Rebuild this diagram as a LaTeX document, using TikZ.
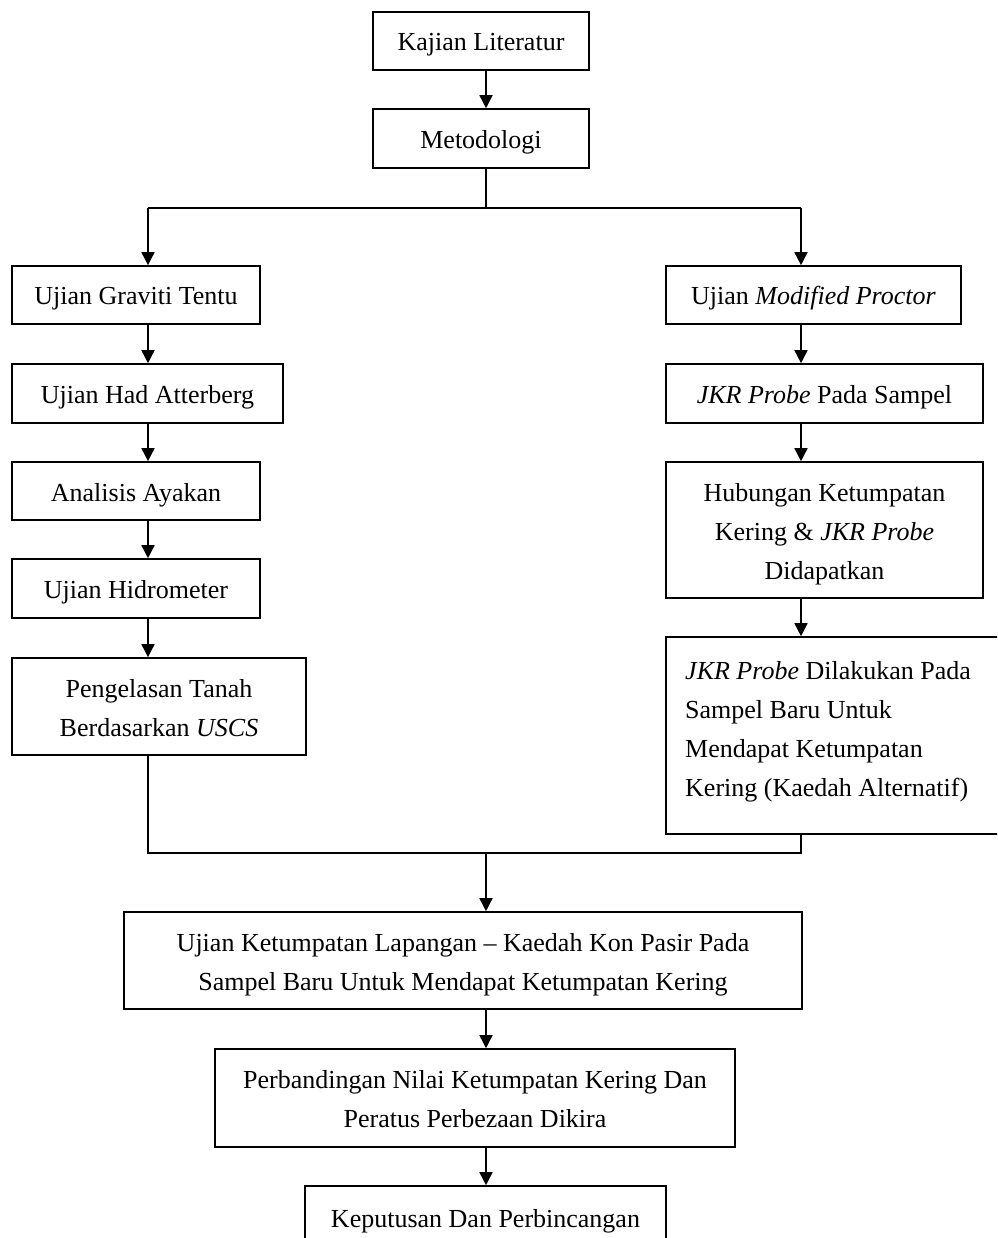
\documentclass[tikz,border=0pt]{standalone}
\usepackage{fontspec}
\setmainfont{Liberation Serif}
\usetikzlibrary{arrows.meta}
\tikzset{
  box/.style={draw, line width=1.6pt, inner sep=0pt, align=center,
    font=\fontsize{26}{39}\selectfont, text height=26pt, text depth=6pt},
  twolines/.style={text height=65pt},
  threelines/.style={text height=104pt},
  txt/.style={inner sep=0pt, font=\fontsize{26}{39}\selectfont},
  conn/.style={line width=1.6pt},
  arr/.style={line width=1.6pt, -{Triangle[length=13pt,width=13pt]}}
}
\begin{document}
\begin{tikzpicture}[x=1pt,y=-1pt]
\clip (0,0) rectangle (997,1238);
\fill[white] (0,0) rectangle (997,1238);
% top
\node[box, minimum width=216pt, minimum height=58pt] (kaj) at (481,41) {Kajian Literatur};
\node[box, minimum width=216pt, minimum height=59pt] (met) at (481,138.5) {Metodologi};
% left column
\node[box, minimum width=248pt, minimum height=58pt] (gra) at (136,295) {Ujian Graviti Tentu};
\node[box, minimum width=271pt, minimum height=59pt] (att) at (147.5,393.5) {Ujian Had Atterberg};
\node[box, minimum width=248pt, minimum height=58pt] (aya) at (136,491) {Analisis Ayakan};
\node[box, minimum width=248pt, minimum height=59pt] (hid) at (136,588.5) {Ujian Hidrometer};
\node[box, twolines, minimum width=294pt, minimum height=97pt] (pen) at (159,706.5) {Pengelasan Tanah\\Berdasarkan \textit{USCS}};
% right column
\node[box, minimum width=295pt, minimum height=58pt] (mp) at (813.5,295) {Ujian \textit{Modified Proctor}};
\node[box, minimum width=317pt, minimum height=59pt] (jkr) at (824.5,393.5) {\textit{JKR Probe} Pada Sampel};
\node[box, threelines, minimum width=317pt, minimum height=136pt] (hub) at (824.5,530) {Hubungan Ketumpatan\\Kering \& \textit{JKR Probe}\\Didapatkan};
\node[box, minimum width=344pt, minimum height=197pt] (dil) at (838,735.5) {};
\node[txt, anchor=base west, text width=310pt, align=flush left] (dtext) at (685,679)
  {\textit{JKR Probe} Dilakukan Pada\\Sampel Baru Untuk\\Mendapat Ketumpatan\\Kering (Kaedah Alternatif)};
% bottom
\node[box, twolines, minimum width=678pt, minimum height=97pt] (ket) at (463,960.5) {Ujian Ketumpatan Lapangan – Kaedah Kon Pasir Pada\\Sampel Baru Untuk Mendapat Ketumpatan Kering};
\node[box, twolines, minimum width=520pt, minimum height=98pt] (per) at (475,1098) {Perbandingan Nilai Ketumpatan Kering Dan\\Peratus Perbezaan Dikira};
\node[box, minimum width=361pt, minimum height=62pt] (kep) at (485.5,1217) {Keputusan Dan Perbincangan};
% coordinates
\coordinate (split) at (486,208);
\coordinate (lx) at (148,208);
\coordinate (rx) at (801,208);
\coordinate (ml) at (148,853);
\coordinate (mr) at (801,853);
\coordinate (mc) at (486,853);
% connectors
\draw[arr] (kaj.south -| split) -- (met.north -| split);
\draw[conn] (met.south -| split) -- (split);
\draw[conn] (lx) -- (rx);
\draw[arr] (lx) -- (gra.north -| lx);
\draw[arr] (rx) -- (mp.north -| rx);
\draw[arr] (gra.south -| lx) -- (att.north -| lx);
\draw[arr] (att.south -| lx) -- (aya.north -| lx);
\draw[arr] (aya.south -| lx) -- (hid.north -| lx);
\draw[arr] (hid.south -| lx) -- (pen.north -| lx);
\draw[arr] (mp.south -| rx) -- (jkr.north -| rx);
\draw[arr] (jkr.south -| rx) -- (hub.north -| rx);
\draw[arr] (hub.south -| rx) -- (dil.north -| rx);
\draw[conn] (pen.south -| ml) -- (ml) -- (mr) -- (dil.south -| mr);
\draw[arr] (mc) -- (ket.north -| mc);
\draw[arr] (ket.south -| mc) -- (per.north -| mc);
\draw[arr] (per.south -| mc) -- (kep.north -| mc);
\end{tikzpicture}
\end{document}
